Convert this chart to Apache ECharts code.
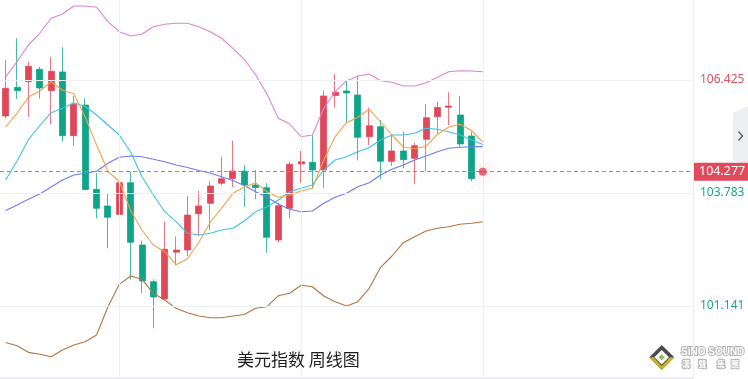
<!DOCTYPE html>
<html><head><meta charset="utf-8">
<script src="https://cdn.jsdelivr.net/npm/echarts@6/dist/echarts.min.js"></script>
<style>html,body{margin:0;padding:0;background:#fff;overflow:hidden}#c{width:748px;height:379px}</style>
</head><body><div id="c"></div>
<script>
// ---- data (weekly DXY) ----
const weeks = ['W01','W02','W03','W04','W05','W06','W07','W08','W09','W10',
  'W11','W12','W13','W14','W15','W16','W17','W18','W19','W20',
  'W21','W22','W23','W24','W25','W26','W27','W28','W29','W30',
  'W31','W32','W33','W34','W35','W36','W37','W38','W39','W40',
  'W41','W42','W43'];
const futureWeeks = ['F01','F02','F03','F04','F05','F06','F07','F08','F09',
  'F10','F11','F12','F13','F14','F15','F16','F17','F18'];
// [open, close, low, high]
const candles = [
  [105.583,106.231,105.530,106.893],[106.254,106.175,105.981,107.400],
  [106.385,106.745,105.567,106.853],[106.675,106.238,105.988,106.729],
  [106.175,106.628,105.389,106.970],[106.612,105.123,104.982,107.190],
  [105.123,105.857,104.882,106.051],[105.840,103.865,103.853,105.997],
  [103.869,103.425,103.191,104.244],[103.479,103.215,102.490,103.760],
  [103.280,104.024,103.075,104.321],[104.024,102.630,101.760,104.281],
  [102.567,101.725,101.438,102.668],[101.709,101.351,100.620,101.765],
  [101.305,102.467,101.281,103.112],[102.400,102.450,102.088,102.766],
  [102.450,103.268,102.310,103.713],[103.299,103.479,102.770,103.834],
  [103.542,103.947,102.918,104.064],[104.010,104.117,103.970,104.632],
  [104.122,104.297,103.923,105.006],[104.297,103.970,103.463,104.437],
  [103.970,103.912,103.636,104.321],[103.907,102.747,102.387,104.010],
  [102.684,103.486,102.626,103.549],[103.425,104.454,103.191,104.515],
  [104.461,104.515,104.024,104.765],[104.501,104.321,103.876,105.139],
  [104.321,106.051,103.900,106.175],[106.063,106.137,105.777,106.565],
  [106.168,106.121,105.427,106.425],[106.074,105.085,104.543,106.530],
  [105.099,105.357,104.905,105.782],[105.333,104.524,104.103,105.490],
  [104.524,104.765,104.414,105.139],[104.765,104.562,104.360,105.216],
  [104.594,104.889,103.993,104.952],[105.038,105.544,104.286,105.859],
  [105.567,105.782,105.169,105.918],[105.787,105.817,105.373,106.137],
  [105.607,104.929,104.851,106.051],[105.116,104.117,104.056,105.209],
  [104.277,104.277,104.277,104.277]
];
const ma5 = [105.326,105.646,106.028,106.168,106.385,106.184,106.105,105.560,104.905,104.290,
  104.052,103.374,102.918,102.567,102.411,102.107,102.245,102.626,103.093,103.425,
  103.776,103.923,104.024,103.813,103.682,103.736,103.830,103.893,104.555,105.099,
  105.427,105.553,105.740,105.443,105.139,104.859,104.819,104.875,105.151,105.326,
  105.389,105.244,104.975];
const ma10 = [104.087,104.531,105.029,105.361,105.661,105.763,105.894,105.805,105.607,105.373,
  105.139,104.742,104.164,103.736,103.346,103.112,102.841,102.801,102.841,102.918,
  102.958,103.128,103.346,103.463,103.619,103.813,103.893,103.970,104.321,104.555,
  104.632,104.749,104.847,105.022,105.139,105.139,105.179,105.296,105.272,105.216,
  105.139,105.022,104.917];
const ma20 = [103.374,103.502,103.636,103.760,103.923,104.087,104.204,104.244,104.290,104.477,
  104.618,104.648,104.632,104.571,104.515,104.438,104.379,104.309,104.251,104.164,
  104.075,103.958,103.813,103.682,103.526,103.402,103.346,103.362,103.542,103.682,
  103.776,103.930,104.024,104.204,104.337,104.438,104.555,104.648,104.749,104.828,
  104.852,104.866,104.866];
const bollUpper = [106.495,106.853,107.243,107.517,107.868,107.968,108.155,108.155,108.125,107.788,
  107.554,107.454,107.501,107.671,107.727,107.751,107.751,107.671,107.554,107.400,
  107.166,106.909,106.542,106.098,105.530,105.396,105.099,105.139,105.763,106.151,
  106.402,106.519,106.565,106.409,106.371,106.285,106.285,106.362,106.488,106.619,
  106.642,106.635,106.619];
const bollLower = [100.288,100.213,100.058,100.012,99.956,100.112,100.229,100.306,100.463,101.125,
  101.648,101.842,101.765,101.438,101.281,101.087,100.984,100.907,100.867,100.867,
  100.907,100.942,101.087,101.125,101.382,101.438,101.625,101.592,101.375,101.242,
  101.141,101.242,101.555,102.046,102.310,102.621,102.761,102.895,102.958,102.995,
  103.051,103.075,103.112];
const yTickValues = [101.141, 103.783, 106.425];
const gridWeeks = ['W11', 'W27', 'W43'];
const lastPrice = 104.277;
const titleText = '美元指数 周线图';
const logoText = 'SiNO SOUND';
const logoChars = ['漢', '聲', '集', '團'];

const UP = '#e0485a', DOWN = '#0ea488';
const chart = echarts.init(document.getElementById('c'), null, {renderer: 'canvas'});
function lineSeries(name, data, color) {
  return {name, type: 'line', data, symbol: 'none', silent: true, z: 3,
    lineStyle: {color, width: 1.1}, itemStyle: {color}};
}
const logoStyle = {fill: '#ffffff', stroke: '#b4b4b4', lineWidth: 2, strokeFirst: true};
const charX = [686, 702.5, 721, 735];
chart.setOption({
  animation: false,
  backgroundColor: '#ffffff',
  title: {text: titleText, left: 237, top: 351, padding: 0,
    textStyle: {fontSize: 17, fontWeight: 'normal', color: '#1e1e1e', fontFamily: '"Noto Sans CJK SC", sans-serif'}},
  grid: {left: -3, right: 55, top: 0, bottom: 1, containLabel: false},
  xAxis: {type: 'category', data: weeks.concat(futureWeeks), boundaryGap: true,
    axisLine: {show: true, lineStyle: {color: '#eceef1', width: 2}},
    axisTick: {show: false}, axisLabel: {show: false}, splitLine: {show: false}},
  yAxis: {type: 'value', position: 'right', min: 99.458, max: 108.295, scale: true,
    splitLine: {show: false}, axisTick: {show: false},
    axisLine: {show: true, lineStyle: {color: '#eef0f2'}},
    axisLabel: {customValues: yTickValues, margin: 7, fontSize: 12,
      fontFamily: '"Noto Sans", sans-serif',
      color: v => (Number(v) > lastPrice ? '#e0505f' : '#1aa88c'),
      formatter: v => Number(v).toFixed(3)}},
  series: [
    {type: 'line', data: [], z: 1, silent: true,
      markLine: {silent: true, symbol: ['none', 'none'], label: {show: false},
        lineStyle: {color: '#eff0f2', type: 'solid', width: 1},
        data: yTickValues.map(v => ({yAxis: v})).concat(gridWeeks.map(w => ({xAxis: w})))}},
    {name: 'K', type: 'candlestick', data: candles, barWidth: 6.5, z: 2,
      itemStyle: {color: UP, color0: DOWN, borderColor: 'rgba(224,72,90,0.75)', borderColor0: 'rgba(14,164,136,0.75)', borderWidth: 1},
      markLine: {silent: true, symbol: ['none', 'none'],
        lineStyle: {color: '#e2707c', type: [4, 3], width: 1},
        label: {position: 'end', distance: 1, formatter: lastPrice.toFixed(3), color: '#fff',
          backgroundColor: '#e04a5a', padding: [3, 5, 2, 5], fontSize: 12.5,
          fontFamily: '"Noto Sans", sans-serif'},
        data: [{yAxis: lastPrice}]}},
    lineSeries('BOLL UP', bollUpper, '#df82d9'),
    lineSeries('BOLL DN', bollLower, '#b5743f'),
    lineSeries('MA20', ma20, '#6e7bf4'),
    lineSeries('MA10', ma10, '#3cc3e2'),
    lineSeries('MA5', ma5, '#f8a04a'),
    {type: 'scatter', data: [[weeks[weeks.length - 1], lastPrice]], symbolSize: 8, z: 5, silent: true,
      itemStyle: {color: '#e2485a', shadowBlur: 16, shadowColor: 'rgba(226,72,90,0.8)'}}
  ],
  graphic: [
    {type: 'polygon', silent: true, shape: {points: [[733, 113], [748, 106], [748, 166], [733, 160]]},
      style: {fill: '#eceef2'}},
    {type: 'polyline', silent: true, shape: {points: [[738.5, 131.5], [742.5, 136], [738.5, 140.5]]},
      style: {stroke: '#5c5f66', lineWidth: 1.4, fill: 'none'}},
    {type: 'polygon', silent: true, shape: {points: [[661.7, 345], [674.3, 357.3], [661.7, 370], [649.3, 357.3]]},
      style: {fill: '#4b4b4b'}},
    {type: 'polygon', silent: true, shape: {points: [[649.3, 357.3], [661.7, 370], [674.3, 357.3], [670, 357.3], [661.7, 366], [653.5, 357.3]]},
      style: {fill: '#c9b228'}},
    {type: 'polygon', silent: true, shape: {points: [[661.7, 350], [669, 357.3], [661.7, 364.6], [654.4, 357.3]]},
      style: {fill: '#ffffff'}},
    {type: 'polygon', silent: true, shape: {points: [[661.7, 354.3], [664.7, 357.3], [661.7, 360.3], [658.7, 357.3]]},
      style: {fill: '#8fbf3c'}},
    {type: 'text', silent: true, x: 681, y: 352.5,
      style: Object.assign({text: logoText, font: 'bold 10px "Liberation Sans", sans-serif',
        verticalAlign: 'middle'}, logoStyle)},
    ...logoChars.map((ch, i) => ({type: 'text', silent: true, x: charX[i], y: 363.7,
      style: Object.assign({text: ch, font: 'bold 8px "Noto Sans CJK TC"', align: 'center', verticalAlign: 'middle'}, logoStyle)}))
  ]
});
</script></body></html>
